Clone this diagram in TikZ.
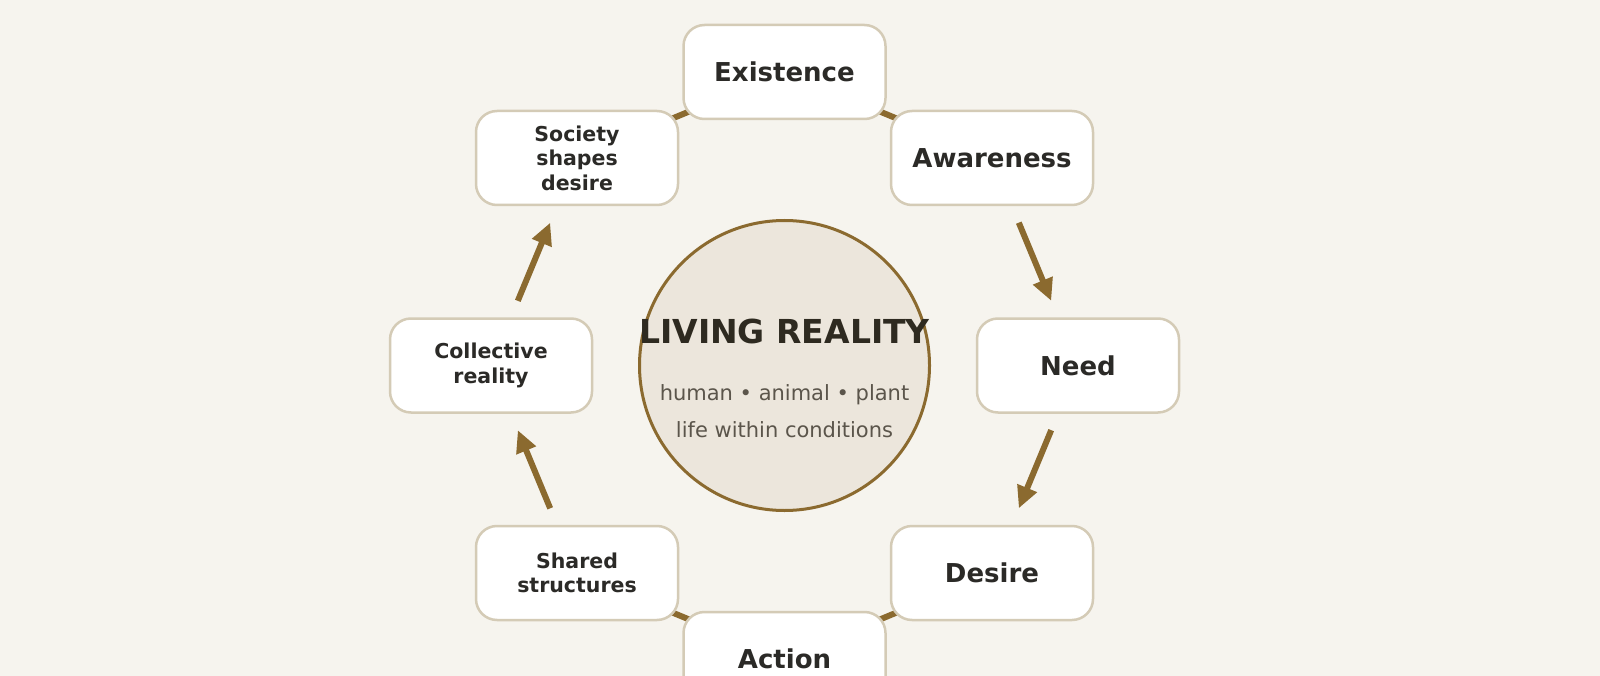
\documentclass[tikz,border=0pt]{standalone}
\usepackage{fontspec}
\setmainfont{DejaVu Sans}
\usetikzlibrary{shapes, arrows.meta, positioning, backgrounds}

\definecolor{paper}{HTML}{F6F4EE}
\definecolor{boxline}{HTML}{D4CBB6}
\definecolor{bronze}{HTML}{8B6A2F}
\definecolor{corefill}{HTML}{ECE6DC}
\definecolor{ink}{HTML}{2B2A27}
\definecolor{titleink}{HTML}{2E2A20}
\definecolor{subink}{HTML}{5B554B}

\begin{document}
\begin{tikzpicture}[x=1pt, y=-1pt,
  stage/.style={draw=boxline, line width=2.5pt, fill=white, rounded corners=21pt,
    minimum width=202pt, minimum height=94pt, align=center, text=ink,
    font=\bfseries\fontsize{26}{31}\selectfont},
  smallstage/.style={stage, font=\bfseries\fontsize{20.5}{24.5}\selectfont},
  flow/.style={draw=bronze, line width=6pt, -{Triangle[length=22pt, width=20pt]},
    shorten <=70pt, shorten >=70pt}]

  \begin{scope}[on background layer]
    \fill[paper] (0,0) rectangle (1600,676);
  \end{scope}
  \useasboundingbox (0,0) rectangle (1600,676);

  \node[circle, draw=bronze, line width=3pt, fill=corefill, minimum size=290pt] (life) at (784.5,365.5) {};
  \node[text=titleink, font=\bfseries\fontsize{33}{40}\selectfont] (title) at (784.5,331) {LIVING REALITY};
  \node[text=subink, align=center, font=\fontsize{21}{37}\selectfont] (sub) at (784.5,411.5) {human • animal • plant\\life within conditions};

  \node[stage] (exist) at (784.5,72) {Existence};
  \node[stage] (aware) at (992,158) {Awareness};
  \node[stage] (need) at (1078,365.5) {Need};
  \node[stage] (desire) at (992,573) {Desire};
  \node[stage] (action) at (784.5,659) {Action};
  \node[smallstage] (shared) at (577,573) {Shared\\structures};
  \node[smallstage] (collective) at (491,365.5) {Collective\\reality};
  \node[smallstage] (society) at (577,158) {Society\\shapes\\desire};

  \begin{scope}[on background layer]
    \draw[flow] (exist.center) -- (aware.center);
    \draw[flow] (aware.center) -- (need.center);
    \draw[flow] (need.center) -- (desire.center);
    \draw[flow] (desire.center) -- (action.center);
    \draw[flow] (action.center) -- (shared.center);
    \draw[flow] (shared.center) -- (collective.center);
    \draw[flow] (collective.center) -- (society.center);
    \draw[flow] (society.center) -- (exist.center);
  \end{scope}
\end{tikzpicture}
\end{document}
